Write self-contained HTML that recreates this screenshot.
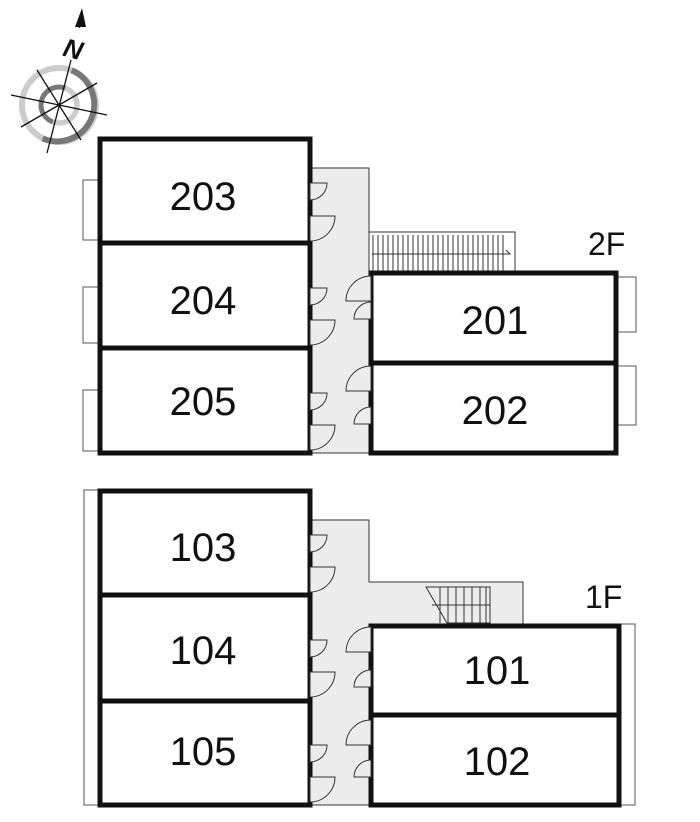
<!DOCTYPE html>
<html><head><style>body{margin:0;background:#fff}svg{display:block}text{font-family:"Liberation Sans",sans-serif;fill:#111}</style></head><body>
<svg width="700" height="822" viewBox="0 0 700 822" xmlns="http://www.w3.org/2000/svg">
<!-- compass -->
<g transform="translate(59,105)">
<circle r="37" fill="none" stroke="#ccc" stroke-width="6"/>
<path d="M0,-37 A37,37 0 0 1 -4,37" fill="none" stroke="#777" stroke-width="6" transform="rotate(20)"/>
<circle r="18" fill="none" stroke="#777" stroke-width="5"/>
<path d="M0,-18 A18,18 0 0 1 0,18" fill="none" stroke="#ccc" stroke-width="5" transform="rotate(20)"/>
<g stroke="#111" stroke-width="1.3">
<line x1="12" y1="-45" x2="-12" y2="48"/><line x1="-48" y1="-10" x2="48" y2="10"/>
<line x1="-22" y1="-35" x2="22" y2="35"/><line x1="38" y1="-22" x2="-38" y2="22"/>
</g>
</g>
<line x1="79" y1="28" x2="82" y2="20" stroke="#111" stroke-width="1.3"/>
<polygon points="82,8 75,27 86,27" fill="#111"/>
<text x="64" y="58" font-size="26" font-weight="bold" font-style="italic" font-family="Liberation Serif" transform="rotate(15 73 48)">N</text>
<g fill="#ececec" stroke="#333" stroke-width="1">
<polygon points="311,168 369,168 369,453 311,453"/>
<polygon points="311,520 369,520 369,582 523,582 523,625 369,625 369,805 311,805"/>
</g>
<!-- 2F stairs -->
<g stroke="#333" stroke-width="1" fill="none">
<rect x="369" y="232" width="146" height="40"/>
<path d="M373,235 v36 M378,235 v36 M383,235 v36 M388,235 v36 M393,235 v36 M398,235 v36 M403,235 v36 M408,235 v36 M413,235 v36 M418,235 v36 M423,235 v36 M428,235 v36 M433,235 v36 M438,235 v36 M443,235 v36 M448,235 v36 M453,235 v36 M458,235 v36 M463,235 v36 M468,235 v36 M473,235 v36 M478,235 v36 M483,235 v36 M488,235 v36 M493,235 v36 M498,235 v36 M503,235 v36"/>
<path d="M372,254 H510 l-4,-4"/>
<!-- 1F stairs -->
<path d="M426,587 H490 V623 H447 Z"/>
<path d="M440,587 v36 M448,587 v36 M456,587 v36 M464,587 v36 M472,587 v36 M480,587 v36 M486,587 v36 M432,605 H490"/>
</g>
<!-- balconies -->
<g fill="#fff" stroke="#555" stroke-width="1">
<rect x="83" y="180" width="16" height="60"/><rect x="83" y="287" width="16" height="56"/><rect x="83" y="390" width="16" height="61"/>
<rect x="617" y="277" width="19" height="55"/><rect x="617" y="366" width="19" height="59"/>
<rect x="84" y="490" width="15" height="315"/><rect x="620" y="624" width="15" height="181"/>
</g>
<!-- rooms -->
<g fill="#fff" stroke="#111" stroke-width="5">
<rect x="100" y="139" width="210" height="104"/><rect x="100" y="243" width="210" height="105"/><rect x="100" y="348" width="210" height="105"/>
<rect x="371" y="273" width="245" height="90"/><rect x="371" y="363" width="245" height="90"/>
<rect x="100" y="491" width="210" height="104"/><rect x="100" y="595" width="210" height="106"/><rect x="100" y="701" width="210" height="104"/>
<rect x="371" y="626" width="248" height="89"/><rect x="371" y="715" width="248" height="90"/>
</g>
<!-- doors -->
<g fill="#ececec" stroke="#333" stroke-width="1">
<path d="M310,183 h17 a17,17 0 0 1 -17,17 Z"/><path d="M310,216 h25 a25,25 0 0 1 -25,25 Z"/>
<path d="M310,288 h17 a17,17 0 0 1 -17,17 Z"/><path d="M310,320 h25 a25,25 0 0 1 -25,25 Z"/>
<path d="M310,393 h17 a17,17 0 0 1 -17,17 Z"/><path d="M310,425 h25 a25,25 0 0 1 -25,25 Z"/>
<path d="M371,301 h-25 a25,25 0 0 1 25,-25 Z"/><path d="M371,319 h-17 a17,17 0 0 1 17,-17 Z"/>
<path d="M371,391 h-25 a25,25 0 0 1 25,-25 Z"/><path d="M371,424 h-17 a17,17 0 0 1 17,-17 Z"/>
<path d="M310,535 h17 a17,17 0 0 1 -17,17 Z"/><path d="M310,567 h25 a25,25 0 0 1 -25,25 Z"/>
<path d="M310,640 h17 a17,17 0 0 1 -17,17 Z"/><path d="M310,672 h25 a25,25 0 0 1 -25,25 Z"/>
<path d="M310,745 h17 a17,17 0 0 1 -17,17 Z"/><path d="M310,777 h25 a25,25 0 0 1 -25,25 Z"/>
<path d="M371,652 h-25 a25,25 0 0 1 25,-25 Z"/><path d="M371,687 h-17 a17,17 0 0 1 17,-17 Z"/>
<path d="M371,745 h-25 a25,25 0 0 1 25,-25 Z"/><path d="M371,777 h-17 a17,17 0 0 1 17,-17 Z"/>
</g>
<g font-size="40" text-anchor="middle">
<text x="203" y="210">203</text><text x="203" y="314">204</text><text x="203" y="415">205</text>
<text x="495" y="334">201</text><text x="495" y="424">202</text>
<text x="203" y="561">103</text><text x="203" y="664">104</text><text x="203" y="765">105</text>
<text x="497" y="684">101</text><text x="497" y="775">102</text>
</g>
<text x="588" y="255" font-size="32">2F</text>
<text x="585" y="608" font-size="32">1F</text>
</svg>
</body></html>
